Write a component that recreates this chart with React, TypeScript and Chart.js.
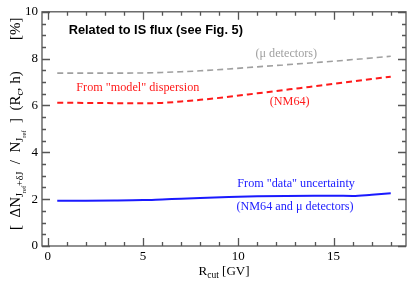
import React, { useEffect, useRef } from "react";
import { Chart, registerables } from "chart.js";

Chart.register(...registerables);

// ---- data ----
const rcut = [0.5, 2, 3.5, 5, 6, 7, 8, 9.5, 11, 12.5, 14, 15, 16, 17, 18];
const muDetectors = [7.38, 7.38, 7.38, 7.39, 7.41, 7.44, 7.48, 7.56, 7.65, 7.74, 7.83, 7.89, 7.96, 8.03, 8.1];
const modelDispersion = [6.12, 6.11, 6.1, 6.09, 6.11, 6.17, 6.24, 6.37, 6.52, 6.67, 6.82, 6.92, 7.03, 7.13, 7.23];
const dataUncertainty = [1.93, 1.93, 1.94, 1.96, 1.99, 2.02, 2.05, 2.09, 2.12, 2.14, 2.15, 2.15, 2.14, 2.19, 2.25];
const xTickValues = [0, 5, 10, 15];
const yTickValues = [0, 2, 4, 6, 8, 10];
const xMinorStep = 1;
const yMinorStep = 0.5;

const SERIF = "'Liberation Serif', 'Times New Roman', serif";
const ANN_FONT = `12.2px ${SERIF}`;

const annotations = [
  { text: "Related to IS flux (see Fig. 5)", x: 1.1, y: 9.2, color: "#000", font: "bold 12.8px 'Liberation Sans', Arial, sans-serif" },
  { text: "(\u03bc detectors)", x: 10.9, y: 8.2, color: "#a0a0a0", font: ANN_FONT },
  { text: "From \"model\" dispersion", x: 1.5, y: 6.75, color: "#ff1a1a", font: ANN_FONT },
  { text: "(NM64)", x: 11.65, y: 6.15, color: "#ff1a1a", font: ANN_FONT },
  { text: "From \"data\" uncertainty", x: 9.95, y: 2.65, color: "#2020ff", font: ANN_FONT },
  { text: "(NM64 and \u03bc detectors)", x: 9.9, y: 1.67, color: "#2020ff", font: ANN_FONT },
];

type Seg = { t: string; s: number; dy: number };

function drawRich(ctx: CanvasRenderingContext2D, segs: Seg[], x: number, y: number) {
  let cx = x;
  for (const sg of segs) {
    ctx.font = `${sg.s}px ${SERIF}`;
    ctx.fillText(sg.t, cx, y + sg.dy);
    cx += ctx.measureText(sg.t).width;
  }
  return cx - x;
}
function richWidth(ctx: CanvasRenderingContext2D, segs: Seg[]) {
  let w = 0;
  for (const sg of segs) {
    ctx.font = `${sg.s}px ${SERIF}`;
    w += ctx.measureText(sg.t).width;
  }
  return w;
}

const framePlugin = {
  id: "framePlugin",
  afterDraw(chart: any) {
    const ctx: CanvasRenderingContext2D = chart.ctx;
    const { left, right, top, bottom } = chart.chartArea;
    const xs = chart.scales.x;
    const ys = chart.scales.y;
    ctx.save();
    ctx.strokeStyle = "#555";
    ctx.lineWidth = 1.3;
    ctx.strokeRect(left, top, right - left, bottom - top);
    for (let v = Math.ceil(xs.min); v <= xs.max; v += xMinorStep) {
      const px = Math.round(xs.getPixelForValue(v)) + 0.5;
      const major = xTickValues.includes(v);
      const len = major ? 8 : 4;
      ctx.beginPath();
      ctx.moveTo(px, bottom);
      ctx.lineTo(px, bottom - len);
      ctx.moveTo(px, top);
      ctx.lineTo(px, top + len);
      ctx.stroke();
    }
    for (let v = ys.min; v <= ys.max + 1e-9; v += yMinorStep) {
      const py = Math.round(ys.getPixelForValue(v)) + 0.5;
      const major = yTickValues.some((t) => Math.abs(t - v) < 1e-6);
      const len = major ? 8 : 4;
      ctx.beginPath();
      ctx.moveTo(left, py);
      ctx.lineTo(left + len, py);
      ctx.moveTo(right, py);
      ctx.lineTo(right - len, py);
      ctx.stroke();
    }
    ctx.textBaseline = "middle";
    ctx.textAlign = "left";
    for (const a of annotations) {
      ctx.font = a.font;
      ctx.fillStyle = a.color;
      ctx.fillText(a.text, xs.getPixelForValue(a.x), ys.getPixelForValue(a.y));
    }
    ctx.fillStyle = "#000";
    ctx.textBaseline = "alphabetic";
    const xt: Seg[] = [
      { t: "R", s: 13, dy: 0 },
      { t: "cut", s: 9.5, dy: 3 },
      { t: " [GV]", s: 13, dy: 0 },
    ];
    const w = richWidth(ctx, xt);
    drawRich(ctx, xt, (left + right) / 2 - w / 2, 275);
    ctx.translate(20, 230);
    ctx.rotate(-Math.PI / 2);
    const yt: Seg[] = [
      { t: "[  \u0394N", s: 15, dy: 0 },
      { t: "J", s: 10, dy: 3 },
      { t: "ref", s: 6.5, dy: 6 },
      { t: "+\u03b4J", s: 10, dy: 3 },
      { t: "  /  N", s: 15, dy: 0 },
      { t: "J", s: 10, dy: 3 },
      { t: "ref", s: 6.5, dy: 6 },
      { t: "  ]  (R", s: 15, dy: 0 },
      { t: "c", s: 10, dy: 3 },
      { t: ", h)", s: 15, dy: 0 },
    ];
    drawRich(ctx, yt, 0, 0);
    drawRich(ctx, [{ t: "[%]", s: 15, dy: 0 }], 190, 0);
    ctx.restore();
  },
};

export default function App() {
  const ref = useRef<HTMLCanvasElement>(null);
  useEffect(() => {
    const chart = new Chart(ref.current!, {
      type: "line",
      data: {
        labels: rcut,
        datasets: [
          {
            data: rcut.map((x, i) => ({ x, y: muDetectors[i] })),
            borderColor: "#a0a0a0",
            borderWidth: 1.6,
            borderDash: [6, 4],
            pointRadius: 0,
            cubicInterpolationMode: "monotone",
          },
          {
            data: rcut.map((x, i) => ({ x, y: modelDispersion[i] })),
            borderColor: "#ff1a1a",
            borderWidth: 2,
            borderDash: [6, 4],
            pointRadius: 0,
            cubicInterpolationMode: "monotone",
          },
          {
            data: rcut.map((x, i) => ({ x, y: dataUncertainty[i] })),
            borderColor: "#1a1aff",
            borderWidth: 2,
            pointRadius: 0,
            cubicInterpolationMode: "monotone",
          },
        ],
      },
      options: {
        animation: false,
        responsive: false,
        events: [],
        layout: { padding: { top: 7, right: 9, left: 0, bottom: 0 } },
        plugins: { legend: { display: false }, tooltip: { enabled: false } },
        scales: {
          x: {
            type: "linear",
            min: -0.3,
            max: 18.8,
            grid: { display: false, drawTicks: false },
            border: { display: false },
            ticks: { font: { family: SERIF, size: 13 }, color: "#000", padding: 3, maxRotation: 0 },
            afterBuildTicks: (s: any) => {
              s.ticks = xTickValues.map((v) => ({ value: v }));
            },
            afterFit: (s: any) => {
              s.height = 37;
            },
          },
          y: {
            type: "linear",
            min: 0,
            max: 10,
            grid: { display: false, drawTicks: false },
            border: { display: false },
            ticks: { font: { family: SERIF, size: 13 }, color: "#000", padding: 4 },
            afterBuildTicks: (s: any) => {
              s.ticks = yTickValues.map((v) => ({ value: v }));
            },
            afterFit: (s: any) => {
              s.width = 42;
            },
          },
        },
      },
      plugins: [framePlugin],
    } as any);
    return () => chart.destroy();
  }, []);
  return (
    <div style={{ position: "fixed", left: 0, top: 0, width: 415, height: 283, background: "#fff" }}>
      <canvas ref={ref} width={415} height={283} />
    </div>
  );
}
